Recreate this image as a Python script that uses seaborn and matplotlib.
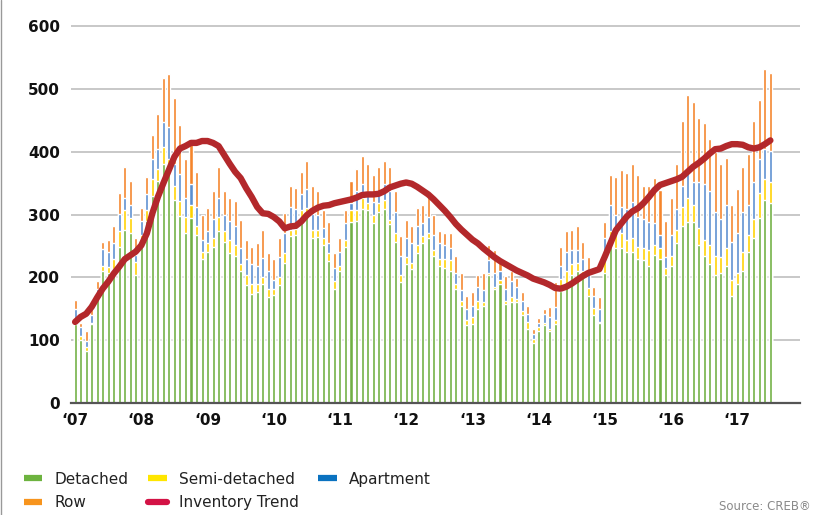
import numpy as np
import pandas as pd
import seaborn as sns
import matplotlib
matplotlib.use("Agg")
import matplotlib.pyplot as plt
from matplotlib.lines import Line2D

# monthly inventory, Jan 2007 - Jul 2017
detached = [125, 100, 82, 125, 165, 210, 207, 213, 248, 275, 271, 204,
            259, 290, 329, 354, 381, 365, 323, 297, 271, 295, 268, 229,
            240, 248, 274, 257, 238, 234, 210, 188, 173, 177, 190, 168,
            172, 188, 223, 266, 268, 291, 302, 263, 265, 251, 226, 182,
            210, 248, 288, 290, 309, 307, 287, 304, 309, 285, 257, 193,
            221, 213, 238, 254, 263, 234, 218, 215, 210, 182, 154, 124,
            126, 149, 154, 204, 182, 190, 157, 160, 160, 140, 118, 96,
            115, 124, 115, 126, 179, 190, 204, 210, 201, 171, 140, 127,
            207, 255, 246, 246, 240, 240, 229, 227, 218, 235, 229, 204,
            218, 254, 282, 288, 288, 251, 234, 221, 204, 207, 218, 171,
            190, 210, 240, 263, 295, 323, 318]
semi = [8, 6, 7, 3, 5, 8, 9, 16, 26, 32, 24, 21,
        8, 17, 27, 19, 26, 24, 23, 24, 25, 20, 14, 11,
        15, 15, 22, 17, 22, 17, 11, 16, 17, 13, 11, 14,
        10, 13, 15, 10, 9, 16, 8, 13, 11, 11, 12, 12,
        8, 11, 19, 17, 17, 11, 12, 14, 14, 7, 14, 11,
        11, 10, 13, 12, 8, 10, 11, 14, 17, 8, 9, 8,
        11, 14, 6, 3, 3, 6, 6, 8, 6, 6, 11, 6,
        6, 3, 3, 6, 19, 20, 17, 13, 9, 12, 11, 2,
        31, 19, 24, 25, 20, 23, 20, 19, 26, 16, 17, 11,
        16, 22, 30, 39, 27, 28, 25, 30, 30, 25, 28, 25,
        17, 30, 28, 30, 40, 34, 33]
apartment = [16, 15, 10, 12, 12, 27, 24, 25, 27, 20, 20, 10,
             23, 25, 32, 31, 41, 51, 35, 44, 31, 34, 30, 19,
             19, 30, 31, 25, 30, 31, 25, 25, 31, 28, 30, 28,
             14, 31, 33, 36, 32, 25, 30, 25, 23, 17, 16, 21,
             22, 28, 11, 30, 23, 18, 21, 13, 26, 46, 33, 30,
             31, 31, 31, 21, 25, 24, 25, 22, 19, 17, 17, 17,
             17, 22, 20, 20, 22, 14, 19, 26, 19, 17, 12, 8,
             6, 14, 19, 20, 20, 30, 22, 20, 19, 22, 20, 20,
             25, 41, 29, 41, 49, 57, 47, 47, 44, 36, 22, 17,
             34, 33, 34, 46, 36, 72, 90, 86, 70, 61, 69, 61,
             64, 64, 47, 58, 53, 47, 50]
row = [15, 6, 16, 10, 12, 12, 19, 28, 34, 49, 39, 27,
       20, 27, 38, 56, 70, 83, 104, 77, 61, 71, 56, 40,
       36, 44, 49, 38, 37, 39, 45, 30, 27, 37, 45, 28,
       33, 31, 31, 34, 34, 36, 45, 44, 38, 28, 34, 23,
       22, 20, 36, 36, 44, 45, 43, 45, 36, 38, 33, 32,
       28, 28, 28, 28, 33, 31, 20, 20, 25, 27, 27, 22,
       23, 19, 27, 24, 37, 17, 20, 16, 14, 14, 13, 8,
       8, 8, 16, 40, 31, 34, 33, 39, 28, 27, 14, 19,
       25, 48, 61, 59, 57, 61, 67, 52, 57, 71, 71, 58,
       59, 71, 103, 117, 128, 103, 97, 84, 96, 87, 75, 58,
       69, 72, 81, 98, 94, 128, 125]
trend = [129, 137, 142, 153, 168, 182, 193, 206, 217, 229, 235, 241,
         251, 270, 302, 328, 350, 371, 392, 405, 409, 414, 414, 417,
         417, 414, 409, 395, 381, 368, 358, 342, 328, 312, 302, 301,
         296, 289, 278, 281, 282, 289, 299, 306, 311, 314, 315, 318,
         320, 322, 324, 327, 331, 332, 332, 333, 337, 343, 346, 349,
         351, 349, 344, 338, 332, 324, 315, 306, 296, 285, 276, 268,
         260, 254, 246, 239, 232, 226, 221, 216, 211, 207, 203, 198,
         195, 192, 188, 183, 182, 185, 190, 196, 202, 207, 210, 213,
         233, 254, 275, 286, 297, 305, 310, 318, 328, 339, 347, 350,
         353, 356, 360, 368, 376, 382, 389, 397, 404, 405, 409, 412,
         412, 411, 407, 405, 407, 412, 418]
year_labels = ["\u201807", "\u201808", "\u201809", "\u201810", "\u201811", "\u201812",
               "\u201813", "\u201814", "\u201815", "\u201816", "\u201817"]

df = pd.DataFrame({"Detached": detached, "Semi-detached": semi,
                   "Apartment": apartment, "Row": row, "trend": trend})
df["month"] = np.arange(len(df))
# cumulative tops for stacking
df["top_semi"] = df["Detached"] + df["Semi-detached"]
df["top_apt"] = df["top_semi"] + df["Apartment"]
df["top_row"] = df["top_apt"] + df["Row"]

sns.set_style("white")
plt.rcParams["font.family"] = ["DejaVu Sans"]

fig = plt.figure(figsize=(8.19, 5.15), dpi=100)
ax = fig.add_axes([0.087, 0.2175, 0.89, 0.738])

c_green = "#70b043"
c_yellow = "#ffd200"
c_blue = "#5b8fd0"
c_orange = "#f5852b"
c_line = "#b3282b"

w = 0.55
sns.barplot(data=df, x="month", y="top_row", color=c_orange, width=w, saturation=1, errorbar=None, ax=ax)
sns.barplot(data=df, x="month", y="top_apt", color=c_blue, width=w, saturation=1, errorbar=None, ax=ax)
sns.barplot(data=df, x="month", y="top_semi", color=c_yellow, width=w, saturation=1, errorbar=None, ax=ax)
sns.barplot(data=df, x="month", y="Detached", color=c_green, width=w, saturation=1, errorbar=None, ax=ax)
sns.lineplot(data=df, x="month", y="trend", color=c_line, linewidth=4.6, ax=ax,
             solid_capstyle="round", zorder=5)

ax.set_xlim(-0.7, 131.4)
ax.set_ylim(0, 605)
ax.set_yticks(range(0, 601, 100))
ax.set_xticks(range(0, 121, 12))
ax.set_xticklabels(year_labels)
ax.set_xlabel("")
ax.set_ylabel("")
ax.yaxis.grid(True, color="#c8c8c8", linewidth=1.4)
ax.set_axisbelow(True)
for s in ["top", "right", "left"]:
    ax.spines[s].set_visible(False)
ax.spines["bottom"].set_color("#555555")
ax.spines["bottom"].set_linewidth(1.6)
ax.tick_params(axis="both", length=0, labelsize=11, colors="#111111")
ax.tick_params(axis="y", pad=8)
ax.tick_params(axis="x", pad=7)
for t in ax.get_xticklabels() + ax.get_yticklabels():
    t.set_fontweight("bold")

handles = [
    Line2D([0], [0], color="#6db33f", lw=4.5, solid_capstyle="butt"),
    Line2D([0], [0], color="#f7941d", lw=4.5, solid_capstyle="butt"),
    Line2D([0], [0], color="#ffe600", lw=4.5, solid_capstyle="butt"),
    Line2D([0], [0], color="#d31245", lw=4.5, solid_capstyle="round"),
    Line2D([0], [0], color="#0a72c0", lw=4.5, solid_capstyle="butt"),
]
labels = ["Detached", "Row", "Semi-detached", "Inventory Trend", "Apartment"]
fig.legend(handles, labels, loc="upper left", bbox_to_anchor=(0.029, 0.084),
           ncol=3, frameon=False, fontsize=11, handlelength=1.2, handletextpad=0.8,
           columnspacing=1.3, labelspacing=0.55, borderpad=0, borderaxespad=0,
           labelcolor="#222222")

fig.text(0.99, 0.003, "Source: CREB\u00ae", ha="right", va="bottom", fontsize=8.5, color="#8a8a8a")
fig.add_artist(Line2D([0.001, 0.001], [0, 1], transform=fig.transFigure, color="#999999", lw=1))

fig.savefig("out.png", dpi=100)
